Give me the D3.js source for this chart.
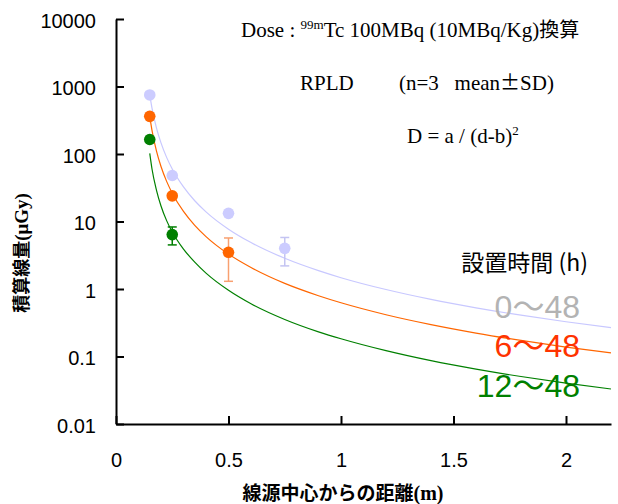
<!DOCTYPE html>
<html>
<head>
<meta charset="utf-8">
<script src="https://cdn.jsdelivr.net/npm/d3@7"></script>
<style>
  body { margin: 0; background: #fff; }
  svg { display: block; }
  .tick text { font-family: "Liberation Sans", Arial, sans-serif; font-size: 20px; fill: #000; }
</style>
</head>
<body>
<div id="chart"></div>
<script>
var svgWidth = 618;
var svgHeight = 504;

// measured distances (m) and mean dose (uGy), SD
var distances = [0.15, 0.25, 0.5, 0.75];
var dose0 = [750, 48, 13.2, 4.0];
var sd0 = [40, 3, 1.0, 1.8];
var dose6 = [361, 24, 3.5];
var sd6 = [20, 2, 2.2];
var dose12 = [164, 6.4];
var sd12 = [8, 1.9];

// fitted curves D = a/(d-b)^2
var fitDist = [0.15, 0.16, 0.18, 0.2, 0.225, 0.25, 0.3, 0.35, 0.4, 0.5, 0.6, 0.75, 0.9, 1.0, 1.2, 1.4, 1.6, 1.8, 2.0, 2.2];
var fit0 = [751, 478, 242, 146, 89.1, 60.0, 32.5, 20.3, 13.9, 7.69, 4.87, 2.85, 1.87, 1.47, 0.982, 0.701, 0.526, 0.409, 0.327, 0.267];
var fit6 = [361, 224, 110, 65.2, 39.3, 26.3, 14.1, 8.77, 5.98, 3.29, 2.08, 1.21, 0.795, 0.625, 0.416, 0.297, 0.2225, 0.173, 0.138, 0.113];
var fit12 = [102, 60, 29, 17, 10.3, 7.0, 3.9, 2.5, 1.72, 0.958, 0.605, 0.354, 0.232, 0.183, 0.122, 0.0867, 0.065, 0.0505, 0.0404, 0.033];

var xTicks = [0, 0.5, 1, 1.5, 2];
var xTickLabels = ["0", "0.5", "1", "1.5", "2"];
var yTicks = [0.01, 0.1, 1, 10, 100, 1000, 10000];
var yTickLabels = ["0.01", "0.1", "1", "10", "100", "1000", "10000"];

var legendLabels = ["0\u301C48", "6\u301C48", "12\u301C48"];

var series = [
  {dose: dose0, sd: sd0, fit: fit0, fill: "#ccccff", err: "#c4c4f2", line: "#c8c8ff", text: "#b3b3b3"},
  {dose: dose6, sd: sd6, fit: fit6, fill: "#ff6600", err: "#f8a070", line: "#ff6600", text: "#ff3300"},
  {dose: dose12, sd: sd12, fit: fit12, fill: "#007f00", err: "#007f00", line: "#008000", text: "#008000"}
];

var svg = d3.select("#chart")
  .append("svg")
  .attr("width", svgWidth)
  .attr("height", svgHeight);

var x = d3.scaleLinear().domain([0, 2.2]).range([116, 611]);
var y = d3.scaleLog().domain([0.01, 10000]).range([424, 19]);

// axes
var xAxis = d3.axisBottom(x)
  .tickValues(xTicks)
  .tickFormat((d, i) => xTickLabels[i])
  .tickSizeInner(-8)
  .tickSizeOuter(0)
  .tickPadding(29);

var yAxis = d3.axisLeft(y)
  .tickValues(yTicks)
  .tickFormat((d, i) => yTickLabels[i])
  .tickSizeInner(-8)
  .tickSizeOuter(0)
  .tickPadding(20);

var gx = svg.append("g")
  .attr("transform", "translate(0,424)")
  .call(xAxis);

var gy = svg.append("g")
  .attr("transform", "translate(116,0)")
  .call(yAxis);

svg.selectAll(".domain, .tick line")
  .attr("stroke", "#000")
  .attr("stroke-width", 2);
gy.selectAll(".tick text").attr("dy", "0.42em");

// fit curves
var line = d3.line()
  .x((d, i) => x(fitDist[i]))
  .y(d => y(d))
  .curve(d3.curveMonotoneX);

series.forEach(function(s) {
  svg.append("path")
    .attr("d", line(s.fit))
    .attr("fill", "none")
    .attr("stroke", s.line)
    .attr("stroke-width", 1.2);
});

// error bars and points
series.forEach(function(s) {
  var g = svg.append("g");
  s.dose.forEach(function(v, i) {
    var cx = x(distances[i]);
    var lo = y(v - s.sd[i]);
    var hi = y(v + s.sd[i]);
    g.append("line").attr("x1", cx).attr("x2", cx).attr("y1", lo).attr("y2", hi)
      .attr("stroke", s.err).attr("stroke-width", 1.5);
    [lo, hi].forEach(function(yy) {
      g.append("line").attr("x1", cx - 4.5).attr("x2", cx + 4.5).attr("y1", yy).attr("y2", yy)
        .attr("stroke", s.err).attr("stroke-width", 1.5);
    });
  });
  g.selectAll("circle")
    .data(s.dose)
    .enter()
    .append("circle")
    .attr("cx", (d, i) => x(distances[i]))
    .attr("cy", d => y(d))
    .attr("r", 5.8)
    .attr("fill", s.fill);
});

// annotations
var serif = "'Liberation Serif', 'Times New Roman', serif";
var cjk = "'Noto Sans CJK JP', sans-serif";
var t1 = svg.append("text")
  .attr("x", 241).attr("y", 37)
  .attr("font-family", serif)
  .attr("font-size", "21px");
t1.append("tspan").text("Dose : ");
t1.append("tspan").attr("font-size", "13px").attr("dy", -8).text("99m");
t1.append("tspan").attr("dy", 8).text("Tc 100MBq (10MBq/Kg)");
t1.append("tspan").attr("font-family", cjk).attr("font-size", "20px").text("換算");

svg.append("text")
  .attr("x", 300).attr("y", 90)
  .attr("font-family", serif)
  .attr("font-size", "21px")
  .text("RPLD");

var t2 = svg.append("text")
  .attr("x", 399).attr("y", 90)
  .attr("font-family", serif)
  .attr("font-size", "21px")
  .attr("xml:space", "preserve");
t2.append("tspan").text("(n=3   mean");
t2.append("tspan").attr("font-family", cjk).attr("font-size", "20px").text("\u00B1");
t2.append("tspan").text("SD)");

var t3 = svg.append("text")
  .attr("x", 407).attr("y", 143)
  .attr("font-family", serif)
  .attr("font-size", "21px");
t3.append("tspan").text("D = a / (d-b)");
t3.append("tspan").attr("font-size", "13px").attr("dy", -8).text("2");

// legend
svg.append("text")
  .attr("x", 588).attr("y", 271)
  .attr("text-anchor", "end")
  .attr("font-family", cjk)
  .attr("font-size", "23px")
  .text("設置時間 (h)");

var legendY = [318, 357, 397];
series.forEach(function(s, i) {
  svg.append("text")
    .attr("x", 580).attr("y", legendY[i])
    .attr("text-anchor", "end")
    .attr("font-family", "'Liberation Sans', 'Noto Sans CJK JP', sans-serif")
    .attr("font-size", "32px")
    .attr("fill", s.text)
    .text(legendLabels[i]);
});

// axis titles
var tx = svg.append("text")
  .attr("x", 343).attr("y", 500)
  .attr("text-anchor", "middle")
  .attr("font-family", cjk)
  .attr("font-weight", "bold")
  .attr("font-size", "19px");
tx.append("tspan").text("線源中心からの距離");
tx.append("tspan").attr("font-family", serif).attr("font-size", "20px").text("(m)");

var ty = svg.append("text")
  .attr("transform", "translate(28,253) rotate(-90)")
  .attr("text-anchor", "middle")
  .attr("font-family", cjk)
  .attr("font-weight", "bold")
  .attr("font-size", "18px");
ty.append("tspan").text("積算線量");
ty.append("tspan").attr("font-family", serif).attr("font-size", "19px").text("(μGy)");
</script>
</body>
</html>
